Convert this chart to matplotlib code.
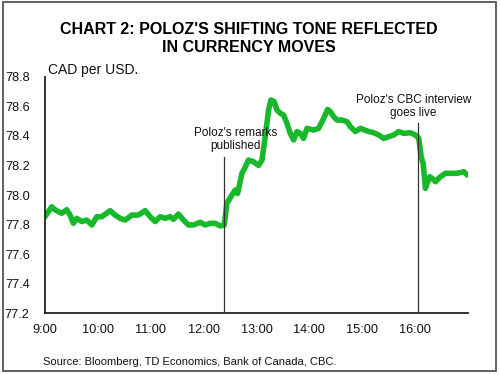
import matplotlib
matplotlib.use("Agg")
import matplotlib.pyplot as plt
from matplotlib.patches import Rectangle

plt.rcParams['font.family'] = ['Liberation Sans', 'DejaVu Sans']

# minutes after 9:00
minutes = [0, 7.6, 11.4, 15.1, 19, 24.7, 28.4, 32.2, 36, 41.7, 47.4, 53.1, 58.8, 64.5,
           73.9, 79.5, 85.2, 90.9, 98.5, 106, 113.6, 119.3, 125, 130.7, 136.4, 142,
           145.8, 151.4, 157.1, 162.8, 168.5, 176.1, 181.8, 187.5, 193.2, 198.9, 203.4,
           206.4, 212.1, 215.9, 218.5, 223.5, 227.3, 230.9, 236.6, 242.3, 246.2, 249.9,
           253.7, 256.4, 260.1, 263.2, 267, 270.7, 274.6, 278.3, 282.1, 285.9, 289.7,
           293.4, 297.3, 304.8, 310.5, 316.2, 320.7, 323.8, 327.5, 331.4, 337.1, 342.7,
           346.5, 352.2, 357.9, 365.5, 373, 378.6, 384.3, 390, 395.7, 401.4, 407, 414.6,
           420.3, 424.1, 426.8, 429.1, 431.7, 433.7, 436.6, 439.3, 443.1, 448.7, 454.4,
           460.1, 467.7, 475.2, 479.1]
cad = [77.853, 77.92, 77.90, 77.887, 77.876, 77.90, 77.864, 77.808, 77.842, 77.82, 77.83,
       77.797, 77.853, 77.853, 77.894, 77.864, 77.842, 77.83, 77.864, 77.864, 77.894,
       77.853, 77.82, 77.853, 77.842, 77.853, 77.835, 77.871, 77.83, 77.797, 77.797,
       77.815, 77.797, 77.808, 77.808, 77.79, 77.797, 77.944, 78.0, 78.034, 78.01, 78.147,
       78.19, 78.237, 78.226, 78.2, 78.237, 78.395, 78.576, 78.644, 78.633, 78.576,
       78.554, 78.542, 78.486, 78.418, 78.373, 78.43, 78.418, 78.384, 78.452, 78.44,
       78.452, 78.52, 78.58, 78.565, 78.531, 78.508, 78.508, 78.497, 78.463, 78.43,
       78.452, 78.434, 78.422, 78.407, 78.384, 78.395, 78.407, 78.43, 78.418, 78.422,
       78.407, 78.384, 78.26, 78.215, 78.045, 78.08, 78.124, 78.113, 78.09, 78.124,
       78.147, 78.147, 78.147, 78.158, 78.136]

event_minutes = [203.4, 423.0]
event_tops = [78.26, 78.49]
event_labels = ["Poloz's remarks\npublished", "Poloz's CBC interview\ngoes live"]
event_label_x = [216.5, 418]
event_label_y = [78.375, 78.6]

x_ticks = [0, 60, 120, 180, 240, 300, 360, 420]
x_labels = ["9:00", "10:00", "11:00", "12:00", "13:00", "14:00", "15:00", "16:00"]
y_ticks = [77.2, 77.4, 77.6, 77.8, 78.0, 78.2, 78.4, 78.6, 78.8]

fig = plt.figure(figsize=(5, 3.75), dpi=100)
ax = fig.add_axes([0.09, 0.1653, 0.846, 0.6294])

ax.plot(minutes, cad, color='#17b82a', linewidth=4.0, solid_capstyle='round',
        solid_joinstyle='round', zorder=2)
for m, top in zip(event_minutes, event_tops):
    ax.plot([m, m], [77.2, top], color='#333333', linewidth=0.9, zorder=3)
for lx, ly, txt in zip(event_label_x, event_label_y, event_labels):
    ax.text(lx, ly, txt, ha='center', va='center', fontsize=8.5, linespacing=1.15,
            color='#111111')

ax.set_xlim(0, 480)
ax.set_ylim(77.2, 78.8)
ax.set_xticks(x_ticks)
ax.set_xticklabels(x_labels)
ax.set_yticks(y_ticks)
ax.set_yticklabels([f"{v:.1f}" for v in y_ticks])
ax.tick_params(axis='both', length=0, labelsize=9.2, colors='#111111')
ax.tick_params(axis='y', pad=11)
ax.tick_params(axis='x', pad=8)
for s in ['top', 'right']:
    ax.spines[s].set_visible(False)
for s in ['left', 'bottom']:
    ax.spines[s].set_linewidth(1.3)
    ax.spines[s].set_color('#222222')

fig.text(0.096, 0.813, "CAD per USD.", fontsize=10, ha='left', va='center', color='#111111')
fig.text(0.497, 0.897, "CHART 2: POLOZ'S SHIFTING TONE REFLECTED\nIN CURRENCY MOVES",
         ha='center', va='center', fontsize=11.5, fontweight='bold', linespacing=1.2)
fig.text(0.086, 0.035, "Source: Bloomberg, TD Economics, Bank of Canada, CBC.",
         ha='left', va='center', fontsize=8, color='#111111')

fig.patches.append(Rectangle((0.005, 0.011), 0.986, 0.983, transform=fig.transFigure,
                             fill=False, edgecolor='#555555', linewidth=1.3))

fig.savefig("out.png", dpi=100)
